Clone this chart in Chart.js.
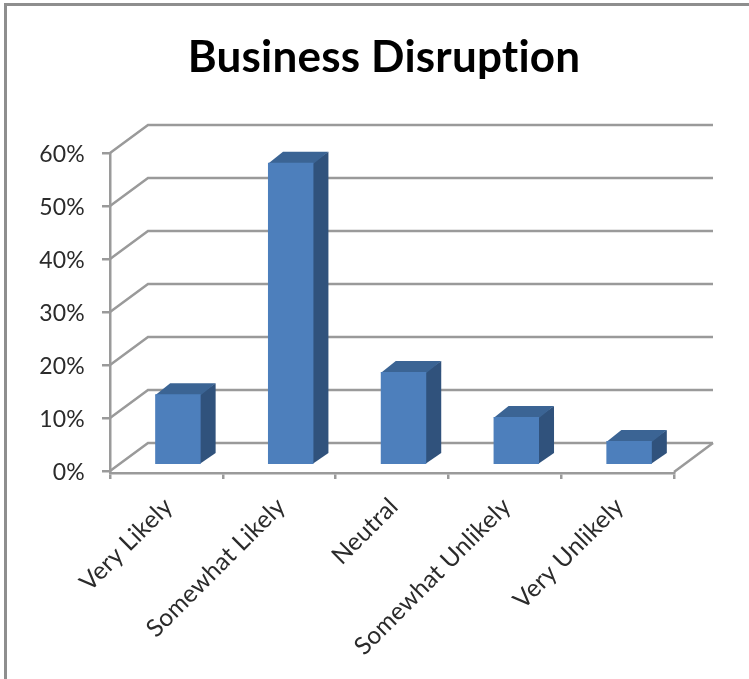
<!DOCTYPE html>
<html>
<head>
<meta charset="utf-8">
<title>Business Disruption</title>
<script src="https://cdn.jsdelivr.net/npm/chart.js@4"></script>
<style>
  html, body { margin: 0; padding: 0; background: #fff; overflow: hidden; }
  #wrap { position: relative; width: 749px; height: 679px; }
  #frame {
    position: absolute; left: 4px; top: 3px; right: 0; bottom: 0;
    border-left: 3px solid #8e8e8e; border-top: 3px solid #8e8e8e;
  }
  canvas { position: absolute; left: 0; top: 0; }
</style>
</head>
<body>
<div id="wrap">
  <div id="frame"></div>
  <canvas id="disruption-chart" width="749" height="679"></canvas>
</div>
<script>
// Survey answers and their share of responses
const categories = ['Very Likely', 'Somewhat Likely', 'Neutral', 'Somewhat Unlikely', 'Very Unlikely'];
const shares = [13.4, 57.1, 17.6, 9.1, 4.6];
const yTicks = [0, 10, 20, 30, 40, 50, 60];

const AXIS_COLOR = '#9a9a9a';
const TEXT_COLOR = '#2b2b2b';
const LABEL_FONT = 'Lato, "Open Sans", sans-serif';

// Wall sits behind the axes, the bars stand between the two
const WALL_DX = 38, WALL_DY = -28;
const BAR_DX = 11.5, BAR_DY = -5.7;
const DEPTH_DX = 15, DEPTH_DY = -11;

function polygon(ctx, points, color) {
    ctx.fillStyle = color;
    ctx.beginPath();
    points.forEach(([x, y], i) => i ? ctx.lineTo(x, y) : ctx.moveTo(x, y));
    ctx.closePath();
    ctx.fill();
}

const perspective = {
    id: 'perspective',
    afterLayout(chart) {
        // Centre the title over the whole frame rather than the plot
        chart.titleBlock.right = 768;
        // The category axis hangs just below the zero line
        chart.scales.x.top += 2;
        chart.scales.x.bottom += 2;
    },
    beforeDraw(chart) {
        // A little tracking also keeps "ti" from joining into a ligature
        chart.ctx.letterSpacing = '0.2px';
    },
    beforeDatasetsDraw(chart) {
        const { ctx, chartArea, scales } = chart;

        // Gridlines: one diagonal along the side wall, then across the back wall
        ctx.save();
        ctx.strokeStyle = AXIS_COLOR;
        ctx.lineWidth = 2.5;
        scales.y.ticks.forEach(tick => {
            const y = scales.y.getPixelForValue(tick.value);
            ctx.beginPath();
            ctx.moveTo(chartArea.left, y);
            ctx.lineTo(chartArea.left + WALL_DX, y + WALL_DY);
            ctx.lineTo(chartArea.right + WALL_DX + 1, y + WALL_DY);
            ctx.stroke();
        });
        // Right edge of the floor
        const floor = scales.y.getPixelForValue(0);
        ctx.beginPath();
        ctx.moveTo(chartArea.right, floor + 1);
        ctx.lineTo(chartArea.right + WALL_DX + 1, floor + WALL_DY);
        ctx.stroke();

        // Side and top faces of each bar, tucked slightly under the front face
        chart.getDatasetMeta(0).data.forEach(bar => {
            const { x, y, base, width } = bar.getProps(['x', 'y', 'base', 'width'], true);
            const left = x - width / 2 + BAR_DX;
            const right = x + width / 2 + BAR_DX;
            const top = y + BAR_DY;
            const bottom = base + BAR_DY;
            polygon(ctx, [[right - 1, top], [right + DEPTH_DX, top + DEPTH_DY],
                [right + DEPTH_DX, bottom + DEPTH_DY], [right - 1, bottom]], '#30527c');
            polygon(ctx, [[left, top + 1], [left + DEPTH_DX, top + DEPTH_DY],
                [right + DEPTH_DX, top + DEPTH_DY], [right, top + 1]], '#3b6494');
        });
        ctx.restore();
    },
    beforeDatasetDraw(chart) {
        chart.ctx.save();
        chart.ctx.translate(BAR_DX, BAR_DY);
    },
    afterDatasetDraw(chart) {
        chart.ctx.restore();
    }
};

new Chart(document.getElementById('disruption-chart'), {
    type: 'bar',
    data: {
        labels: categories,
        datasets: [{
            data: shares,
            backgroundColor: '#4d7fbc',
            categoryPercentage: 1,
            barPercentage: 0.403,
            clip: false
        }]
    },
    plugins: [perspective],
    options: {
        responsive: false,
        animation: false,
        layout: { padding: { left: 0, right: 75, top: 0, bottom: 0 } },
        plugins: {
            legend: { display: false },
            tooltip: { enabled: false },
            title: {
                display: true,
                text: 'Business Disruption',
                color: '#000000',
                font: { family: LABEL_FONT, size: 44, weight: 'bold' },
                padding: { top: 31, bottom: 69.2 }
            }
        },
        scales: {
            x: {
                grid: {
                    offset: true,
                    drawOnChartArea: false,
                    color: AXIS_COLOR,
                    lineWidth: 2.5,
                    tickLength: 6
                },
                border: { color: AXIS_COLOR, width: 2.5 },
                ticks: {
                    color: TEXT_COLOR,
                    font: { family: LABEL_FONT, size: 24.5 },
                    minRotation: 45,
                    maxRotation: 45,
                    autoSkip: false,
                    padding: 13,
                    labelOffset: 2
                },
                afterFit(scale) {
                    scale.height = 208;
                    scale.paddingLeft = 0;
                    scale.paddingRight = 0;
                }
            },
            y: {
                min: 0,
                max: 60,
                afterBuildTicks(scale) {
                    scale.ticks = yTicks.map(value => ({ value }));
                },
                grid: {
                    drawOnChartArea: false,
                    color: AXIS_COLOR,
                    lineWidth: 2.5,
                    tickLength: 8
                },
                border: { color: AXIS_COLOR, width: 2.5 },
                ticks: {
                    color: TEXT_COLOR,
                    font: { family: LABEL_FONT, size: 23 },
                    padding: 17,
                    labelOffset: 2,
                    callback: value => value + '%'
                },
                afterFit(scale) {
                    scale.width = 110;
                    scale.paddingTop = 0;
                    scale.paddingBottom = 0;
                }
            }
        }
    }
});
</script>
</body>
</html>
